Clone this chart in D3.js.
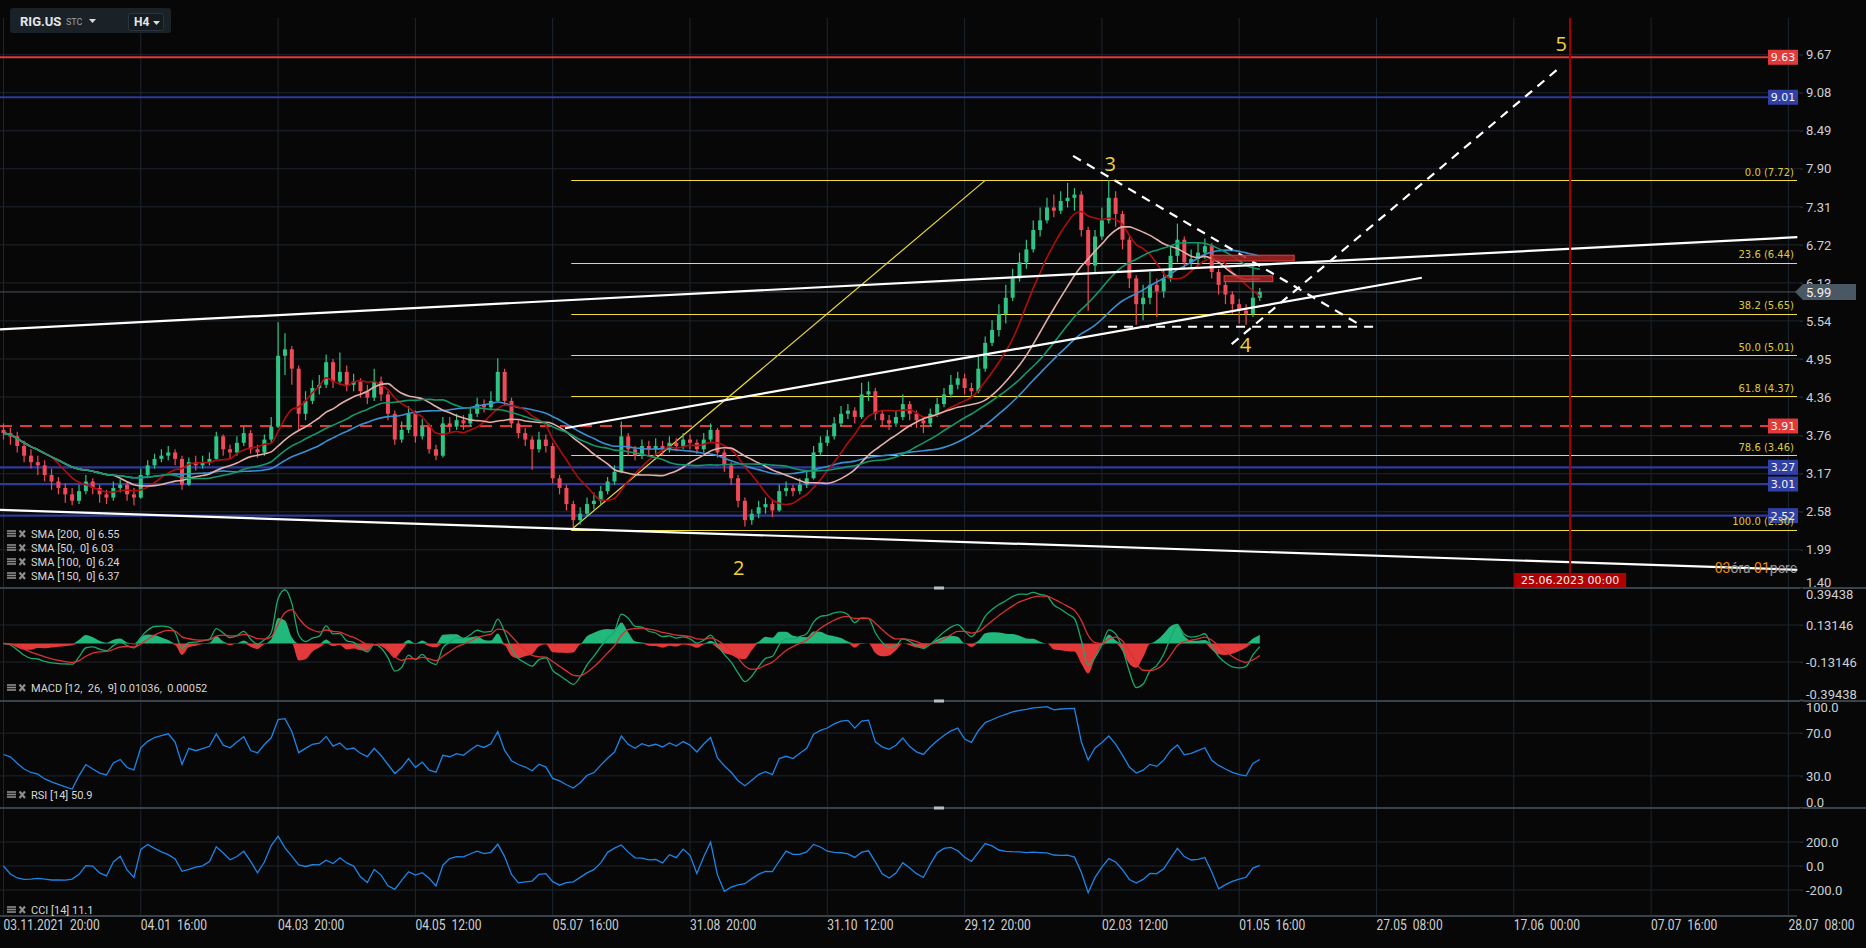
<!DOCTYPE html>
<html>
<head>
<meta charset="utf-8">
<script src="https://cdn.jsdelivr.net/npm/d3@7"></script>
<style>
  html, body { margin: 0; padding: 0; background: #070707; overflow: hidden; }
  svg { display: block; }
  text { font-family: Roboto, "Noto Sans", sans-serif; }
</style>
</head>
<body>
<svg id="chart" width="1866" height="948"></svg>
<script>
// ---- data (one candle ~ 6 H4 bars) ----
const firstOpen = 3.85;
const closes = [3.80,3.75,3.60,3.45,3.35,3.30,3.15,3.05,2.95,2.85,
  2.75,2.90,3.05,2.95,2.85,2.80,2.95,3.00,2.85,2.80,
  3.15,3.30,3.40,3.45,3.50,3.40,3.00,3.35,3.30,3.35,
  3.40,3.75,3.55,3.50,3.65,3.80,3.55,3.50,3.70,3.90,
  5.00,5.10,4.80,4.10,4.30,4.50,4.55,4.90,4.60,4.75,
  4.55,4.60,4.45,4.35,4.60,4.40,4.10,3.70,3.85,4.10,
  3.75,3.90,3.55,3.45,3.95,3.90,4.00,3.95,4.10,4.25,
  4.20,4.30,4.75,4.30,3.95,3.80,3.70,3.55,3.70,3.60,
  3.10,2.95,2.70,2.45,2.55,2.70,2.75,2.90,3.05,3.20,
  3.75,3.55,3.45,3.60,3.55,3.60,3.55,3.65,3.60,3.70,
  3.65,3.55,3.70,3.85,3.50,3.30,3.10,2.75,2.45,2.55,
  2.65,2.70,2.60,2.90,2.95,2.90,3.00,3.10,3.50,3.65,
  3.75,3.95,4.10,4.15,4.05,4.40,4.45,4.10,4.00,3.95,
  4.05,4.25,4.10,4.00,3.95,4.10,4.25,4.40,4.55,4.65,
  4.50,4.45,4.80,5.20,5.40,5.65,5.90,6.20,6.45,6.65,
  6.95,7.10,7.30,7.25,7.40,7.45,7.50,6.95,6.40,6.85,
  7.10,7.45,7.20,6.80,6.20,5.80,5.90,6.10,6.00,6.20,
  6.55,6.80,6.45,6.50,6.60,6.70,6.30,6.10,5.95,5.80,
  5.70,5.65,5.90,5.99];
const highs = [3.95,3.88,3.82,3.68,3.55,3.45,3.38,3.25,3.12,3.02,
  2.95,3.00,3.15,3.10,3.00,2.92,3.05,3.08,3.05,2.95,
  3.25,3.38,3.48,3.55,3.60,3.55,3.45,3.42,3.45,3.45,
  3.50,3.82,3.78,3.62,3.75,3.90,3.85,3.62,3.78,4.05,
  5.52,5.35,5.15,4.85,4.45,4.62,4.70,5.02,4.95,5.05,
  4.85,4.72,4.65,4.55,4.80,4.68,4.45,4.15,3.98,4.22,
  4.15,4.02,3.95,3.62,4.05,4.05,4.10,4.08,4.20,4.35,
  4.32,4.45,4.96,4.80,4.35,4.00,3.88,3.75,3.82,3.78,
  3.65,3.15,3.00,2.75,2.65,2.80,2.88,2.98,3.12,3.30,
  3.98,3.80,3.60,3.70,3.68,3.72,3.68,3.75,3.72,3.80,
  3.78,3.70,3.80,3.95,3.88,3.55,3.35,3.15,2.80,2.62,
  2.75,2.80,2.75,3.00,3.05,3.00,3.10,3.22,3.60,3.75,
  3.85,4.05,4.22,4.25,4.20,4.58,4.60,4.50,4.15,4.08,
  4.15,4.40,4.30,4.15,4.05,4.18,4.35,4.50,4.70,4.75,
  4.72,4.58,4.98,5.30,5.55,5.80,6.10,6.35,6.60,6.80,
  7.10,7.30,7.45,7.50,7.55,7.68,7.60,7.55,7.00,6.95,
  7.30,7.72,7.55,7.25,6.85,6.25,6.10,6.30,6.20,6.35,
  6.70,7.05,6.85,6.65,6.75,6.82,6.75,6.35,6.15,6.00,
  5.88,5.80,6.40,6.05];
const lows = [3.70,3.62,3.50,3.35,3.25,3.15,3.05,2.92,2.85,2.72,
  2.68,2.70,2.85,2.85,2.72,2.70,2.75,2.88,2.75,2.68,
  2.78,3.10,3.25,3.35,3.38,3.30,2.92,2.98,3.22,3.25,
  3.30,3.38,3.45,3.40,3.45,3.60,3.48,3.42,3.45,3.65,
  3.88,4.70,4.55,3.85,4.00,4.25,4.40,4.50,4.50,4.55,
  4.45,4.45,4.35,4.25,4.30,4.30,4.00,3.62,3.65,3.80,
  3.65,3.70,3.48,3.38,3.42,3.80,3.85,3.85,3.90,4.05,
  4.12,4.15,4.28,4.22,3.88,3.72,3.60,3.23,3.50,3.50,
  3.02,2.85,2.60,2.34,2.38,2.50,2.62,2.70,2.85,3.00,
  3.18,3.45,3.38,3.40,3.45,3.48,3.45,3.50,3.52,3.55,
  3.55,3.48,3.50,3.65,3.42,3.20,3.00,2.65,2.35,2.38,
  2.48,2.55,2.50,2.58,2.82,2.82,2.85,2.95,3.08,3.45,
  3.60,3.70,3.90,4.02,3.95,4.02,4.30,4.00,3.90,3.85,
  3.90,4.00,4.00,3.88,3.80,3.90,4.05,4.20,4.35,4.48,
  4.40,4.35,4.42,4.75,5.15,5.30,5.50,5.85,6.15,6.35,
  6.60,6.85,7.05,7.15,7.20,7.30,7.25,6.85,5.70,6.30,
  6.80,7.05,7.00,6.65,6.05,5.48,5.55,5.80,5.60,5.90,
  6.15,6.45,6.35,6.35,6.40,6.50,6.20,5.95,5.80,5.65,
  5.50,5.48,5.60,5.85];

const timeLabels = ["03.11.2021  20:00","04.01  16:00","04.03  20:00","04.05  12:00","05.07  16:00",
  "31.08  20:00","31.10  12:00","29.12  20:00","02.03  12:00","01.05  16:00","27.05  08:00",
  "17.06  00:00","07.07  16:00","28.07  08:00"];
const labelStep = 20;           // candles between time labels
const priceTicks = [9.67,9.08,8.49,7.90,7.31,6.72,6.13,5.54,4.95,4.36,3.76,3.17,2.58,1.99,1.40];
const macdTicks = [0.39438,0.13146,-0.13146,-0.39438];
const rsiTicks = [100,70,30,0];
const cciTicks = [200,0,-200];

const redLevels = [9.63];
const blueLevels = [9.01,3.27,3.01,2.52];
const dashedRedLevels = [3.91];
const lastPrice = 5.99;

const fibRatios = [0,23.6,38.2,50,61.8,78.6,100];
const fibAnchors = [[82.7,2.30],[143,7.72]];   // [candle index, price]

const solidLines = [[[-0.51,5.41],[261.3,6.84]], [[-0.51,2.61],[261.3,1.68]], [[81.8,3.875],[206.6,6.21]]];
const dashedLines = [[[155.8,8.10],[197.1,5.51]], [[160.9,5.45],[199.5,5.45]], [[178.9,5.18],[226.9,9.49]]];
const zones = [[176.0,188.0,6.56,6.47],[177.8,184.9,6.24,6.15]];
const waves = [["2",107.1,1.71],["3",161.2,7.97],["4",180.9,5.17],["5",226.9,9.84]];
const eventIndex = 228.2, eventLabel = "25.06.2023 00:00";

const smaPeriods = [200,50,100,150];
const smaLegend = ["SMA [200,  0] 6.55","SMA [50,  0] 6.03","SMA [100,  0] 6.24","SMA [150,  0] 6.37"];
const macdLegend = "MACD [12,  26,  9] 0.01036,  0.00052";
const rsiLegend = "RSI [14] 50.9";
const cciLegend = "CCI [14] 11.1";

// ---- indicator maths (periods converted to candle units) ----
const BARS = 6;
function sma(a, n) {
  return a.map((v, i) => d3.mean(a.slice(Math.max(0, i - n + 1), i + 1)));
}
function ema(a, n) {
  const k = 2 / (n + 1); let e = a[0];
  return a.map(v => (e = e + k * (v - e)));
}
const fastE = ema(closes, 3), slowE = ema(closes, 6);
const macdLine = closes.map((c, i) => fastE[i] - slowE[i]);
const signalLine = ema(macdLine, 5);
const hist = macdLine.map((m, i) => m - signalLine[i]);
function rsi(c, n) {
  let ag = 0.08, al = 0.08;
  return c.map((v, i) => {
    if (i > 0) {
      const ch = v - c[i - 1];
      ag = (ag * (n - 1) + Math.max(ch, 0)) / n;
      al = (al * (n - 1) + Math.max(-ch, 0)) / n;
    }
    return 100 - 100 / (1 + ag / al);
  });
}
function cci(n) {
  const tp = closes.map((c, i) => (c + highs[i] + lows[i]) / 3);
  return tp.map((v, i) => {
    const w = tp.slice(Math.max(0, i - n + 1), i + 1);
    const m = d3.mean(w), md = d3.mean(w, d => Math.abs(d - m));
    return md ? (v - m) / (0.015 * md) : 0;
  });
}
const rsiVals = rsi(closes, 8);
const cciVals = cci(8);

// ---- layout ----
const W = 1866, H = 948;
const plotR = 1797, axisX = 1800;
const P = { main: [0, 588], macd: [588, 701], rsi: [701, 808], cci: [808, 916] };

const xs = d3.scaleLinear().domain([0, 260]).range([3.5, 1788.4]);
const yP = d3.scaleLinear().domain([1.99, 9.67]).range([549.8, 54.7]);
const yM = d3.scaleLinear().domain([-0.39438, 0.39438]).range([699, 588]);
const yR = d3.scaleLinear().domain([0, 100]).range([808, 701]);
const yC = d3.scaleLinear().domain([-200, 200]).range([890, 842]);

const GRID = "#1d262e", TXT = "#cdd0d2";
const svg = d3.select("#chart");
svg.append("rect").attr("width", W).attr("height", H).attr("fill", "#070707");

const defs = svg.append("defs");
Object.entries(P).forEach(([k, [t, b]]) => {
  defs.append("clipPath").attr("id", "clip-" + k)
    .append("rect").attr("x", 0).attr("y", t).attr("width", 1799).attr("height", b - t);
});

// grid
const grid = svg.append("g").attr("stroke", GRID).attr("stroke-width", 1);
grid.selectAll("line.v").data(timeLabels).join("line")
  .attr("x1", (d, k) => xs(k * labelStep)).attr("x2", (d, k) => xs(k * labelStep))
  .attr("y1", 18).attr("y2", 916);
function hGrid(vals, scale) {
  grid.append("g").selectAll("line").data(vals).join("line")
    .attr("x1", 0).attr("x2", 1803).attr("y1", d => scale(d)).attr("y2", d => scale(d));
}
hGrid(priceTicks.filter(v => yP(v) < 586), yP);
hGrid([0.13146, -0.13146], yM);
hGrid([70, 30], yR);
hGrid(cciTicks, yC);

// separators
const seps = [588, 701, 808];
svg.append("g").selectAll("line").data(seps).join("line")
  .attr("x1", 0).attr("x2", W).attr("y1", d => d).attr("y2", d => d)
  .attr("stroke", "#38424b").attr("stroke-width", 2);
svg.append("line").attr("x1", 0).attr("x2", plotR).attr("y1", 916).attr("y2", 916)
  .attr("stroke", "#38424b").attr("stroke-width", 2);
svg.append("g").selectAll("rect").data(seps).join("rect")
  .attr("x", 934).attr("y", d => d - 1.5).attr("width", 10).attr("height", 3).attr("fill", "#b9bec2");

// ---- main pane ----
const main = svg.append("g").attr("clip-path", "url(#clip-main)");

// level lines
main.append("g").selectAll("line").data(blueLevels).join("line")
  .attr("x1", 0).attr("x2", plotR).attr("y1", d => yP(d)).attr("y2", d => yP(d))
  .attr("stroke", "#2f3b9a").attr("stroke-width", 2.2);
main.append("g").selectAll("line").data(redLevels).join("line")
  .attr("x1", 0).attr("x2", plotR).attr("y1", d => yP(d)).attr("y2", d => yP(d))
  .attr("stroke", "#e03a3a").attr("stroke-width", 2);
main.append("g").selectAll("line").data(dashedRedLevels).join("line")
  .attr("x1", 0).attr("x2", plotR).attr("y1", d => yP(d)).attr("y2", d => yP(d))
  .attr("stroke", "#e03a3a").attr("stroke-width", 2).attr("stroke-dasharray", "12,8");
main.append("line").attr("x1", 0).attr("x2", plotR).attr("y1", yP(lastPrice)).attr("y2", yP(lastPrice))
  .attr("stroke", "#46535e").attr("stroke-width", 1);

// fibonacci
const fibTop = fibAnchors[1][1], fibBot = fibAnchors[0][1];
const fibLevels = fibRatios.map(r => ({ r, p: fibTop - (fibTop - fibBot) * r / 100 }));
main.append("g").selectAll("line").data(fibLevels).join("line")
  .attr("x1", xs(fibAnchors[0][0])).attr("x2", plotR)
  .attr("y1", d => Math.round(yP(d.p)) + 0.5).attr("y2", d => Math.round(yP(d.p)) + 0.5)
  .attr("stroke", "#f0dc3c").attr("stroke-width", 1.2);
main.append("line")
  .attr("x1", xs(fibAnchors[0][0])).attr("y1", yP(fibAnchors[0][1]))
  .attr("x2", xs(fibAnchors[1][0])).attr("y2", yP(fibAnchors[1][1]))
  .attr("stroke", "#e8d63e").attr("stroke-width", 1.2);

// candles
const candles = closes.map((c, i) => ({ i, o: i ? closes[i - 1] : firstOpen, h: highs[i], l: lows[i], c }));
const UP = "#2fc486", DN = "#ef4a58";
const cg = main.append("g");
cg.selectAll("line").data(candles).join("line")
  .attr("x1", d => xs(d.i)).attr("x2", d => xs(d.i))
  .attr("y1", d => yP(d.h)).attr("y2", d => yP(d.l))
  .attr("stroke", d => d.c >= d.o ? UP : DN).attr("stroke-width", 1.2);
cg.selectAll("rect").data(candles).join("rect")
  .attr("x", d => xs(d.i) - 2).attr("width", 4)
  .attr("y", d => yP(Math.max(d.o, d.c)))
  .attr("height", d => Math.max(1, Math.abs(yP(d.o) - yP(d.c))))
  .attr("fill", d => d.c >= d.o ? UP : DN);

// moving averages
const smaColors = { 200: "#3a8fd0", 50: "#b00d0d", 100: "#e2aea8", 150: "#14956a" };
const smaLine = d3.line().x((d, i) => xs(i)).y(d => yP(d)).curve(d3.curveMonotoneX);
smaPeriods.forEach(p => {
  main.append("path").datum(sma(closes, Math.round(p / BARS)))
    .attr("d", smaLine).attr("fill", "none")
    .attr("stroke", smaColors[p]).attr("stroke-width", 1.6);
});

// trend lines
const seg = d3.line().x(d => xs(d[0])).y(d => yP(d[1]));
main.append("g").selectAll("path").data(solidLines).join("path")
  .attr("d", seg).attr("stroke", "#ffffff").attr("stroke-width", 2.2).attr("fill", "none");
main.append("g").selectAll("path").data(dashedLines).join("path")
  .attr("d", seg).attr("stroke", "#ffffff").attr("stroke-width", 2.2).attr("fill", "none")
  .attr("stroke-dasharray", "9,7");

// red zones
main.append("g").selectAll("rect").data(zones).join("rect")
  .attr("x", d => xs(d[0])).attr("width", d => xs(d[1]) - xs(d[0]))
  .attr("y", d => yP(d[2])).attr("height", d => yP(d[3]) - yP(d[2]))
  .attr("fill", "#a32525").attr("fill-opacity", 0.85)
  .attr("stroke", "#e2403f").attr("stroke-width", 1);

// event vertical line
main.append("line").attr("x1", xs(eventIndex)).attr("x2", xs(eventIndex))
  .attr("y1", 18).attr("y2", 574).attr("stroke", "#a50000").attr("stroke-width", 2);

// wave counts
main.append("g").selectAll("text").data(waves).join("text")
  .attr("x", d => xs(d[1])).attr("y", d => yP(d[2]) + 7)
  .attr("text-anchor", "middle").attr("fill", "#f0d23a")
  .style("font-size", "20px").style("font-family", "'Open Sans', Roboto, sans-serif")
  .text(d => d[0]);

// countdown text
const cd = svg.append("text").attr("x", plotR).attr("y", 573).attr("text-anchor", "end")
  .style("font-size", "14px");
[["03", "#e88a12"], ["óra ", "#9b9b9b"], ["01", "#e88a12"], ["perc", "#9b9b9b"]]
  .forEach(([t, c]) => cd.append("tspan").attr("fill", c).text(t));

// event label box
const ev = svg.append("g").attr("transform", `translate(${xs(eventIndex)},580)`);
ev.append("rect").attr("x", -56).attr("y", -7).attr("width", 112).attr("height", 14).attr("fill", "#b00000");
ev.append("text").attr("y", 4).attr("text-anchor", "middle").attr("fill", "#f2f2f2")
  .style("font-size", "11px").style("font-family", "'DejaVu Sans', sans-serif").text(eventLabel);

// ---- right axes ----
function rightAxis(scale, ticks, fmt, top, bottom) {
  const g = svg.append("g").attr("transform", `translate(${axisX},0)`)
    .call(d3.axisRight(scale).tickValues(ticks).tickSize(3).tickPadding(3).tickFormat(fmt));
  g.select(".domain").remove();
  g.selectAll(".tick line").attr("stroke", GRID);
  g.selectAll(".tick text").attr("fill", TXT).style("font-size", "13px")
    .style("font-family", "Roboto, sans-serif")
    .attr("y", d => {
      const ty = scale(d);
      if (ty < top + 6) return top + 6 - ty;
      if (ty > bottom - 6) return bottom - 6 - ty;
      return 0;
    });
}
rightAxis(yP, priceTicks, v => v.toFixed(2), 0, 588);
rightAxis(yM, macdTicks, v => v.toFixed(5), 588, 700);
rightAxis(yR, rsiTicks, v => v.toFixed(1), 701, 808);
rightAxis(yC, cciTicks, v => v.toFixed(1), 808, 916);

// level value boxes
function levelBox(p, fill) {
  const g = svg.append("g").attr("transform", `translate(1768,${yP(p)})`);
  g.append("rect").attr("x", 0).attr("y", -7.5).attr("width", 30).attr("height", 15).attr("fill", fill);
  g.append("text").attr("x", 15).attr("y", 4).attr("text-anchor", "middle").attr("fill", "#f4f4f4")
    .style("font-size", "11px").style("font-family", "'DejaVu Sans', sans-serif").text(p.toFixed(2));
}
redLevels.concat(dashedRedLevels).forEach(p => levelBox(p, "#e03a3a"));
blueLevels.forEach(p => levelBox(p, "#3140a4"));

// fib labels
svg.append("g").selectAll("text").data(fibLevels).join("text")
  .attr("x", 1794).attr("y", d => yP(d.p) - 4.5).attr("text-anchor", "end")
  .attr("fill", "#dcca3c").style("font-size", "10px").style("font-family", "'DejaVu Sans', sans-serif")
  .text(d => `${d.r.toFixed(1)} (${d.p.toFixed(2)})`);

// last price tag
const lp = svg.append("g").attr("transform", `translate(0,${yP(lastPrice)})`);
lp.append("path").attr("d", "M1795,0 L1803,-8 L1856,-8 L1856,8 L1803,8 Z").attr("fill", "#4a5864");
lp.append("text").attr("x", 1806).attr("y", 5).attr("fill", "#f2f2f2").style("font-size", "13px")
  .text(lastPrice.toFixed(2));

// ---- MACD pane ----
const mg = svg.append("g").attr("clip-path", "url(#clip-macd)");
const idx = (d, i) => xs(i);
mg.append("path").datum(hist)
  .attr("d", d3.area().x(idx).y0(yM(0)).y1(d => yM(Math.max(d, 0))).curve(d3.curveMonotoneX))
  .attr("fill", "#22b87c");
mg.append("path").datum(hist)
  .attr("d", d3.area().x(idx).y0(yM(0)).y1(d => yM(Math.min(d, 0))).curve(d3.curveMonotoneX))
  .attr("fill", "#e23a3a");
mg.append("path").datum(macdLine).attr("d", d3.line().x(idx).y(d => yM(d)).curve(d3.curveMonotoneX))
  .attr("fill", "none").attr("stroke", "#17a86c").attr("stroke-width", 1.3);
mg.append("path").datum(signalLine).attr("d", d3.line().x(idx).y(d => yM(d)).curve(d3.curveMonotoneX))
  .attr("fill", "none").attr("stroke", "#d83232").attr("stroke-width", 1.3);

// ---- RSI / CCI panes ----
svg.append("g").attr("clip-path", "url(#clip-rsi)").append("path").datum(rsiVals)
  .attr("d", d3.line().x(idx).y(d => yR(d))).attr("fill", "none")
  .attr("stroke", "#1e84e6").attr("stroke-width", 1.3);
svg.append("g").attr("clip-path", "url(#clip-cci)").append("path").datum(cciVals)
  .attr("d", d3.line().x(idx).y(d => yC(d))).attr("fill", "none")
  .attr("stroke", "#1e84e6").attr("stroke-width", 1.3);

// ---- indicator legends ----
function legend(y, label) {
  const g = svg.append("g").attr("transform", `translate(0,${y})`);
  g.append("g").attr("stroke", "#8c8c8c").attr("stroke-width", 1.6)
    .selectAll("line").data([-8, -5.5, -3]).join("line")
    .attr("x1", 7).attr("x2", 16).attr("y1", d => d).attr("y2", d => d);
  g.append("path").attr("d", "M19.5,-8.5 L25,-2 M25,-8.5 L19.5,-2")
    .attr("stroke", "#8c8c8c").attr("stroke-width", 2.2);
  g.append("text").attr("x", 31).attr("y", -1).attr("fill", "#d6d6d6")
    .style("font-size", "11px").style("white-space", "pre").text(label);
}
smaLegend.forEach((t, k) => legend(539 + k * 14, t));
legend(693, macdLegend);
legend(800, rsiLegend);
legend(915, cciLegend);

// ---- time axis ----
svg.append("g").selectAll("text").data(timeLabels).join("text")
  .attr("transform", (d, k) => `translate(${xs(k * labelStep)},930) scale(0.86,1)`)
  .attr("fill", TXT).style("font-size", "14px").style("white-space", "pre")
  .text(d => d);

// ---- toolbar ----
const tb = svg.append("g");
tb.append("rect").attr("x", 10).attr("y", 8).attr("width", 161).attr("height", 25).attr("rx", 3).attr("fill", "#1a2228");
tb.append("text").attr("x", 20).attr("y", 26).attr("fill", "#e4e6e8").style("font-size", "13px").style("font-weight", "bold").text("RIG.US");
tb.append("text").attr("x", 66).attr("y", 25).attr("fill", "#98a0a6").style("font-size", "9px").text("STC");
tb.append("path").attr("d", "M89,19 L96,19 L92.5,23 Z").attr("fill", "#d8dcdf");
tb.append("rect").attr("x", 128.5).attr("y", 13.5).attr("width", 35).attr("height", 17).attr("rx", 2)
  .attr("fill", "#151c21").attr("stroke", "#2b353d");
tb.append("text").attr("x", 134).attr("y", 26).attr("fill", "#e4e6e8").style("font-size", "12px").style("font-weight", "bold").text("H4");
tb.append("path").attr("d", "M153,21 L160,21 L156.5,25 Z").attr("fill", "#d8dcdf");
</script>
</body>
</html>
